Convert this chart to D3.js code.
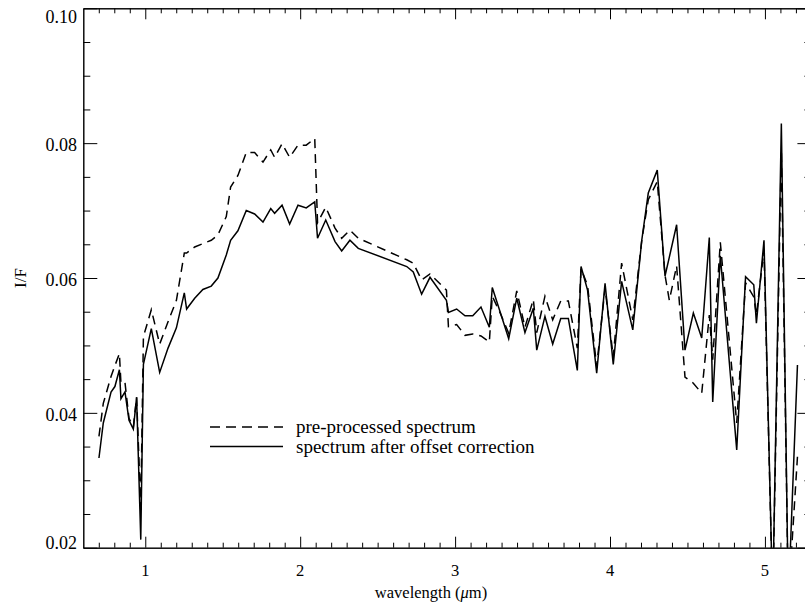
<!DOCTYPE html>
<html><head><meta charset="utf-8">
<script src="https://cdn.jsdelivr.net/npm/d3@7"></script>
<style>
body{margin:0;background:#fff}
svg{display:block}
text{font-family:"Liberation Serif","Times New Roman",serif;fill:#000}
</style>
</head><body>
<svg id="chart" width="805" height="609" font-family="Liberation Serif, Times New Roman, serif"></svg>
<script>
// ---- data ----
const wavelength = [0.701,0.729,0.779,0.804,0.833,0.843,0.869,0.895,0.923,0.944,0.971,0.988,1.039,1.093,1.147,1.201,1.252,1.267,1.319,1.372,1.426,1.469,1.523,1.551,1.598,1.652,1.706,1.760,1.810,1.835,1.883,1.932,1.986,2.039,2.094,2.112,2.165,2.225,2.268,2.321,2.375,2.688,2.730,2.784,2.838,2.944,2.957,3.010,3.064,3.114,3.167,3.221,3.240,3.293,3.346,3.398,3.451,3.505,3.527,3.580,3.630,3.682,3.731,3.789,3.813,3.855,3.914,3.968,4.021,4.075,4.147,4.205,4.247,4.305,4.355,4.383,4.430,4.484,4.538,4.592,4.641,4.663,4.712,4.818,4.875,4.928,4.945,4.994,5.050,5.106,5.151,5.210];
const preProcessed = [0.0365,0.0414,0.0454,0.0470,0.0488,0.0444,0.0445,0.0392,0.0379,0.0423,0.0260,0.0513,0.0553,0.0502,0.0535,0.0567,0.0637,0.0637,0.0646,0.0651,0.0656,0.0664,0.0691,0.0735,0.0752,0.0786,0.0786,0.0772,0.0790,0.0779,0.0799,0.0779,0.0797,0.0797,0.0807,0.0682,0.0705,0.0674,0.0659,0.0671,0.0659,0.0627,0.0622,0.0597,0.0606,0.0582,0.0528,0.0531,0.0515,0.0517,0.0514,0.0505,0.0573,0.0547,0.0518,0.0581,0.0527,0.0568,0.0519,0.0573,0.0538,0.0566,0.0566,0.0496,0.0614,0.0589,0.0469,0.0585,0.0483,0.0622,0.0538,0.0656,0.0716,0.0743,0.0604,0.0567,0.0618,0.0453,0.0444,0.0429,0.0545,0.0479,0.0653,0.0385,0.0593,0.0572,0.0545,0.0642,0.0120,0.0790,0.0120,0.0335];
const corrected = [0.0333,0.0385,0.0431,0.0439,0.0464,0.0421,0.0431,0.0389,0.0376,0.0423,0.0212,0.0472,0.0525,0.0460,0.0496,0.0526,0.0578,0.0554,0.0570,0.0583,0.0588,0.0600,0.0634,0.0656,0.0670,0.0700,0.0695,0.0683,0.0703,0.0696,0.0708,0.0680,0.0708,0.0704,0.0713,0.0659,0.0686,0.0654,0.0640,0.0656,0.0644,0.0617,0.0609,0.0576,0.0601,0.0567,0.0549,0.0554,0.0544,0.0544,0.0557,0.0527,0.0586,0.0548,0.0510,0.0570,0.0519,0.0555,0.0493,0.0543,0.0502,0.0540,0.0540,0.0463,0.0617,0.0582,0.0459,0.0592,0.0472,0.0595,0.0523,0.0656,0.0726,0.0760,0.0603,0.0631,0.0679,0.0493,0.0548,0.0511,0.0660,0.0416,0.0633,0.0345,0.0602,0.0590,0.0533,0.0656,0.0120,0.0829,0.0120,0.0471];
const xMajorTicks = [1,2,3,4,5];
const xTickLabels = ["1","2","3","4","5"];
const yMajorTicks = [0.02,0.04,0.06,0.08,0.10];
const yTickLabels = ["0.02","0.04","0.06","0.08","0.10"];
const xDomain = [0.6, 5.3];
const yDomain = [0.02, 0.10];
const seriesNames = ["pre-processed spectrum","spectrum after offset correction"];

// ---- layout ----
const L = 83.3, R = 811.4, T = 8.3, B = 547.7;
const svg = d3.select("#chart");
const x = d3.scaleLinear().domain(xDomain).range([L, R]);
const y = d3.scaleLinear().domain(yDomain).range([B, T]);

const xMinor = d3.range(7, 53).map(d => d / 10).filter(d => Math.abs(d - Math.round(d)) > 1e-6);
const yMinor = d3.range(5, 20).map(d => d * 0.005).filter(d => Math.abs(d / 0.02 - Math.round(d / 0.02)) > 1e-6);

function styleAxis(g){
  g.selectAll("path.domain").attr("stroke","#000").attr("stroke-width",1);
  g.selectAll(".tick line").attr("stroke","#000").attr("stroke-width",1);
  g.selectAll(".tick text").remove();
}
function addAxis(axisFn, transform, values, size){
  svg.append("g").attr("transform", transform)
    .call(axisFn.tickValues(values).tickSize(-size).tickSizeOuter(0).tickFormat(""))
    .call(styleAxis);
}
addAxis(d3.axisBottom(x), `translate(0,${B})`, xMinor, 5);
addAxis(d3.axisBottom(x), `translate(0,${B})`, xMajorTicks, 11);
addAxis(d3.axisTop(x), `translate(0,${T})`, xMinor, 5);
addAxis(d3.axisTop(x), `translate(0,${T})`, xMajorTicks, 11);
addAxis(d3.axisLeft(y), `translate(${L},0)`, yMinor, 7);
addAxis(d3.axisLeft(y), `translate(${L},0)`, yMajorTicks, 14);
addAxis(d3.axisRight(y), `translate(${R},0)`, yMinor, 7);
addAxis(d3.axisRight(y), `translate(${R},0)`, yMajorTicks, 14);

// tick labels
svg.append("g").selectAll("text").data(xMajorTicks).join("text")
  .attr("x", d => x(d)).attr("y", 576).attr("text-anchor","middle")
  .attr("font-size", 16.5).text((d,i) => xTickLabels[i]);
svg.append("g").selectAll("text").data(yMajorTicks).join("text")
  .attr("x", 77).attr("y", d => Math.min(Math.max(y(d) + 2, T + 8.5), B - 5))
  .attr("dy","0.34em").attr("text-anchor","end")
  .attr("font-size", 18).text((d,i) => yTickLabels[i]);

// axis titles
const xt = svg.append("text").attr("x", 431).attr("y", 598).attr("text-anchor","middle").attr("font-size", 16.5);
xt.append("tspan").text("wavelength (");
xt.append("tspan").attr("font-style","italic").text("\u03bc");
xt.append("tspan").text("m)");
svg.append("text").attr("transform",`translate(20,${(T+B)/2}) rotate(-90)`)
  .attr("text-anchor","middle").attr("dy","0.34em").attr("font-size", 17).text("I/F");

// clip
svg.append("clipPath").attr("id","plotclip").append("rect")
  .attr("x", L).attr("y", T).attr("width", R - L).attr("height", B - T);

const idx = d3.range(wavelength.length);
const lineFor = arr => d3.line().x(i => x(wavelength[i])).y(i => y(arr[i]))(idx);
const plot = svg.append("g").attr("clip-path","url(#plotclip)");
plot.append("path").attr("d", lineFor(preProcessed)).attr("fill","none")
  .attr("stroke","#000").attr("stroke-width",1.5).attr("stroke-dasharray","9,6");
plot.append("path").attr("d", lineFor(corrected)).attr("fill","none")
  .attr("stroke","#000").attr("stroke-width",1.5);

// legend
const lg = svg.append("g");
lg.append("line").attr("x1",210).attr("x2",283).attr("y1",427).attr("y2",427)
  .attr("stroke","#000").attr("stroke-width",1.5).attr("stroke-dasharray","10,6");
lg.append("line").attr("x1",210).attr("x2",283).attr("y1",446.5).attr("y2",446.5)
  .attr("stroke","#000").attr("stroke-width",1.5);
lg.append("text").attr("x",296).attr("y",427).attr("dy","0.34em").attr("font-size",19).text(seriesNames[0]);
lg.append("text").attr("x",296).attr("y",446.5).attr("dy","0.34em").attr("font-size",19).text(seriesNames[1]);
</script>
</body></html>
